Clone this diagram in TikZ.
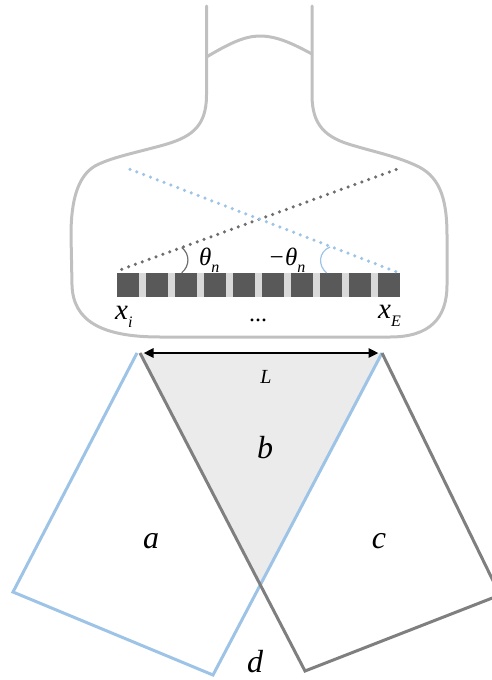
\documentclass[tikz,border=0pt]{standalone}
\usepackage{fontspec}
\setmainfont{Liberation Serif}
\usetikzlibrary{arrows.meta}

\definecolor{outline}{HTML}{C0C0C0}
\definecolor{beamblue}{HTML}{9DC3E6}
\definecolor{beamgray}{HTML}{7F7F7F}
\definecolor{dotgray}{HTML}{6E6E6E}
\definecolor{elemdark}{HTML}{595959}
\definecolor{elemgap}{HTML}{D9D9D9}
\definecolor{overlap}{HTML}{EBEBEB}

% lowered, smaller italic index
\newcommand{\lowsub}[1]{\raisebox{-0.3em}{\fontsize{16}{16}\selectfont #1}}

\tikzset{
  body/.style={draw=outline, line width=3pt, line cap=round, line join=round},
  dotline/.style={line width=3.5pt, line cap=round, dash pattern=on 0pt off 7.3pt},
  beam/.style={line width=3pt, line join=miter},
  biglbl/.style={font=\fontsize{32}{34}\selectfont\itshape, inner sep=0pt, anchor=base},
  arraylbl/.style={font=\fontsize{29}{31}\selectfont\itshape, inner sep=0pt, anchor=base west},
  anglelbl/.style={font=\fontsize{25}{27}\selectfont\itshape, inner sep=0pt, anchor=base west},
}

\begin{document}
\begin{tikzpicture}[x=1pt, y=-1pt]
\useasboundingbox (0,0) rectangle (492,680);
\clip (0,0) rectangle (492,680);

% torso outline
\draw[body] (206.5,6) -- (206.5,95)
  .. controls (206.5,128) and (190,138) .. (160,146)
  .. controls (130,154) and (110,158) .. (95,166)
  .. controls (78,176) and (71,200) .. (71,235)
  -- (72,285)
  .. controls (73,320) and (100,337) .. (160,337)
  -- (390,337)
  .. controls (430,337) and (447,318) .. (447,285)
  -- (447,235)
  .. controls (447,195) and (438,175) .. (415,165)
  .. controls (395,156) and (375,152) .. (355,146)
  .. controls (325,138) and (312,125) .. (312,95)
  -- (312,6);
% neck line
\draw[body] (206.5,57) .. controls (230,43) and (245,36) .. (260,36)
  .. controls (278,36) and (295,45) .. (312,54);

% transducer array
\fill[elemgap] (116.7,273.3) rectangle (400,296.7);
\foreach \k in {0,...,9}
  \fill[elemdark] ({116.7+29*\k},273.3) rectangle ++(22.3,23.4);

% steering directions
\coordinate (gs) at (121.7,269.3);
\coordinate (ge) at (396.7,169.3);
\coordinate (bs) at (130,169.3);
\coordinate (be) at (396,271.7);
\draw[dotline, dotgray] (gs) -- (ge);
\draw[dotline, beamblue] (bs) -- (be);

% angle marks
\draw[line width=1.2pt, dotgray] (181.7,247.5) .. controls (190,254) and (190,266) .. (181.7,272.7);
\draw[line width=1.2pt, beamblue] (330,247) .. controls (318,252) and (318,266) .. (326.7,273);

\node[anglelbl] (tp) at (199,265) {θ\lowsub{n}};
\node[anglelbl] (tm) at (268,265) {−θ\lowsub{n}};
\node[arraylbl] (xi) at (115,319) {x\lowsub{i}};
\node[arraylbl] (xe) at (378,318) {x\lowsub{E}};
\node[font=\fontsize{24}{26}\selectfont, inner sep=0pt, anchor=base] (dots) at (258,321) {...};

% beam footprints
\coordinate (B1) at (137,353);
\coordinate (B2) at (13,592);
\coordinate (B3) at (213,675);
\coordinate (B4) at (382,353);
\coordinate (G1) at (140,353);
\coordinate (G2) at (305,671);
\coordinate (G3) at (500,595);
\coordinate (G4) at (382,353);

\fill[overlap] (G1) -- (B4) -- (intersection of G1--G2 and B4--B3) -- cycle;
\draw[beam, beamblue] (B1) -- (B2) -- (B3) -- (B4);
\draw[beam, beamgray] (G1) -- (G2) -- (G3) -- (G4);

% aperture length
\coordinate (La) at (143.5,353);
\coordinate (Lb) at (378.5,353);
\draw[line width=2.6pt, {Triangle[length=10pt,width=9pt]}-{Triangle[length=10pt,width=9pt]}] (La) -- (Lb);

\node[biglbl, font=\fontsize{20}{22}\selectfont\itshape] (L) at (266,383) {L};
\node[biglbl] (b) at (265,458) {b};
\node[biglbl] (a) at (151,548) {a};
\node[biglbl] (c) at (379,548) {c};
\node[biglbl] (d) at (255,672) {d};
\end{tikzpicture}
\end{document}
